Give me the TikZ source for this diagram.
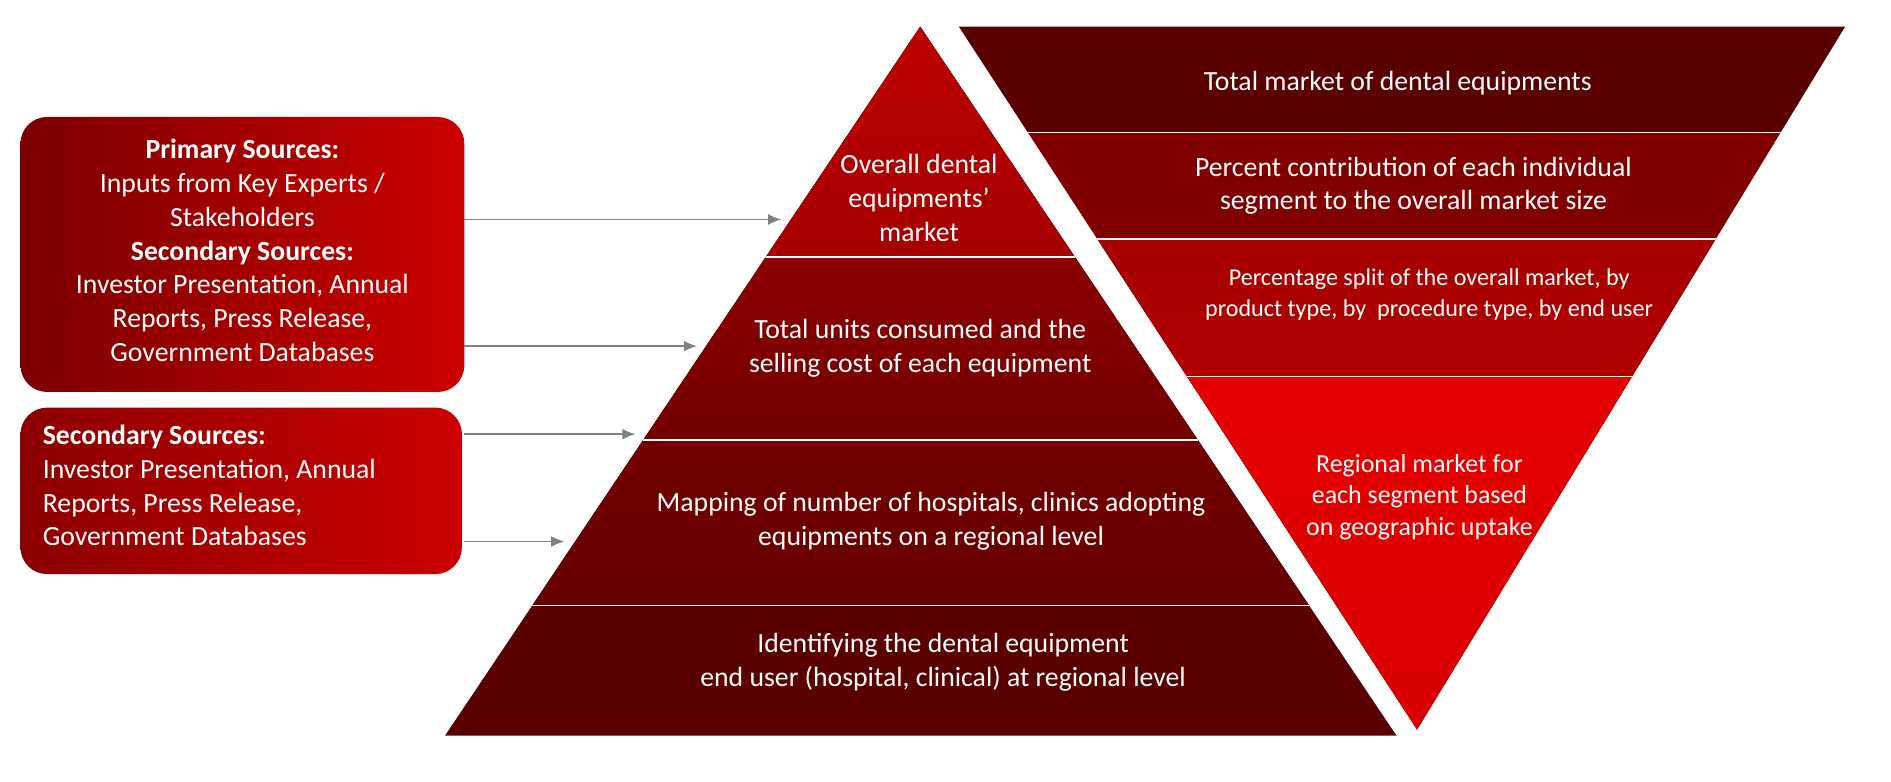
\documentclass[tikz,border=0pt]{standalone}
\usepackage{fontspec}
\setmainfont{Carlito}
\usetikzlibrary{arrows.meta}
\tikzset{
 lbl/.style={text=white,align=center,font=\fontsize{23}{28}\selectfont},
 lbls/.style={text=white,align=center,font=\fontsize{20}{26}\selectfont},
 lblx/.style={text=white,align=center,font=\fontsize{21.5}{26}\selectfont},
 src/.style={rounded corners=22pt},
 arr/.style={draw=gray,line width=1.4pt,-{Latex[length=11pt,width=9pt]}},
 sep/.style={draw=white,line width=1.2pt}
}
\definecolor{dk}{HTML}{5A0000}
\begin{document}
\begin{tikzpicture}[x=1pt,y=-1pt]
\useasboundingbox (0,0) rectangle (1568,648);
% left boxes
\node[src,minimum width=368pt,minimum height=228pt,left color=dk!80!red,right color=red!80!black] (b1) at (201,211) {};
\node[src,minimum width=366pt,minimum height=138pt,left color=dk!70!red,right color=red!80!black] (b2) at (200,407) {};
\node[lbl,anchor=north] (t1) at (201,112) {\textbf{Primary Sources:}\\Inputs from Key Experts /\\Stakeholders\\\textbf{Secondary Sources:}\\Investor Presentation, Annual\\Reports, Press Release,\\Government Databases};
\node[lbl,align=left,anchor=north west] (t2) at (32,349) {\textbf{Secondary Sources:}\\Investor Presentation, Annual\\Reports, Press Release,\\Government Databases};
% pyramid
\begin{scope}
\clip (763,22) -- (1158,610) -- (369,610) -- cycle;
\fill[top color=red!75!black,bottom color=red!65!black] (300,0) rectangle (1200,213);
\fill[top color=red!55!black,bottom color=red!45!black] (300,213) rectangle (1200,365);
\fill[top color=red!45!black,bottom color=red!40!black] (300,365) rectangle (1200,502);
\fill[dk] (300,502) rectangle (1200,620);
\draw[sep] (300,213) -- (1200,213) (300,365) -- (1200,365) (300,502) -- (1200,502);
\end{scope}
% inverted
\begin{scope}
\clip (795,22) -- (1530,22) -- (1175,605) -- cycle;
\fill[dk] (780,0) rectangle (1600,110);
\fill[red!50!black] (780,110) rectangle (1600,198);
\fill[top color=red!65!black,bottom color=red!70!black] (780,198) rectangle (1600,312);
\fill[top color=red!90!black,bottom color=red!85!black] (780,312) rectangle (1600,620);
\draw[sep] (780,110) -- (1600,110) (780,198) -- (1600,198) (780,312) -- (1600,312);
\end{scope}
\node[lbl] (p1) at (762,164) {Overall dental\\equipments'\\market};
\node[lbl] (p2) at (763,289) {Total units consumed and the\\selling cost of each equipment};
\node[lbl] (p3) at (772,432) {Mapping of number of hospitals, clinics adopting\\equipments on a regional level};
\node[lbl] (p4) at (782,549) {Identifying the dental equipment\\end user (hospital, clinical) at regional level};
\node[lbl] (q1) at (1159,69) {Total market of dental equipments};
\node[lbl] (q2) at (1172,154) {Percent contribution of each individual\\segment to the overall market size};
\node[lbls] (q3) at (1185,244) {Percentage split of the overall market, by\\product type, by\ \ procedure type, by end user};
\node[lblx] (q4) at (1177,412) {Regional market for\\each segment based\\on geographic uptake};
% arrows
\coordinate (a1) at (385,182); \coordinate (e1) at (648,182);
\coordinate (a2) at (385,287); \coordinate (e2) at (578,287);
\coordinate (a3) at (385,360); \coordinate (e3) at (527,360);
\coordinate (a4) at (385,449); \coordinate (e4) at (468,449);
\draw[arr] (a1) -- (e1); \draw[arr] (a2) -- (e2);
\draw[arr] (a3) -- (e3); \draw[arr] (a4) -- (e4);
\end{tikzpicture}
\end{document}
